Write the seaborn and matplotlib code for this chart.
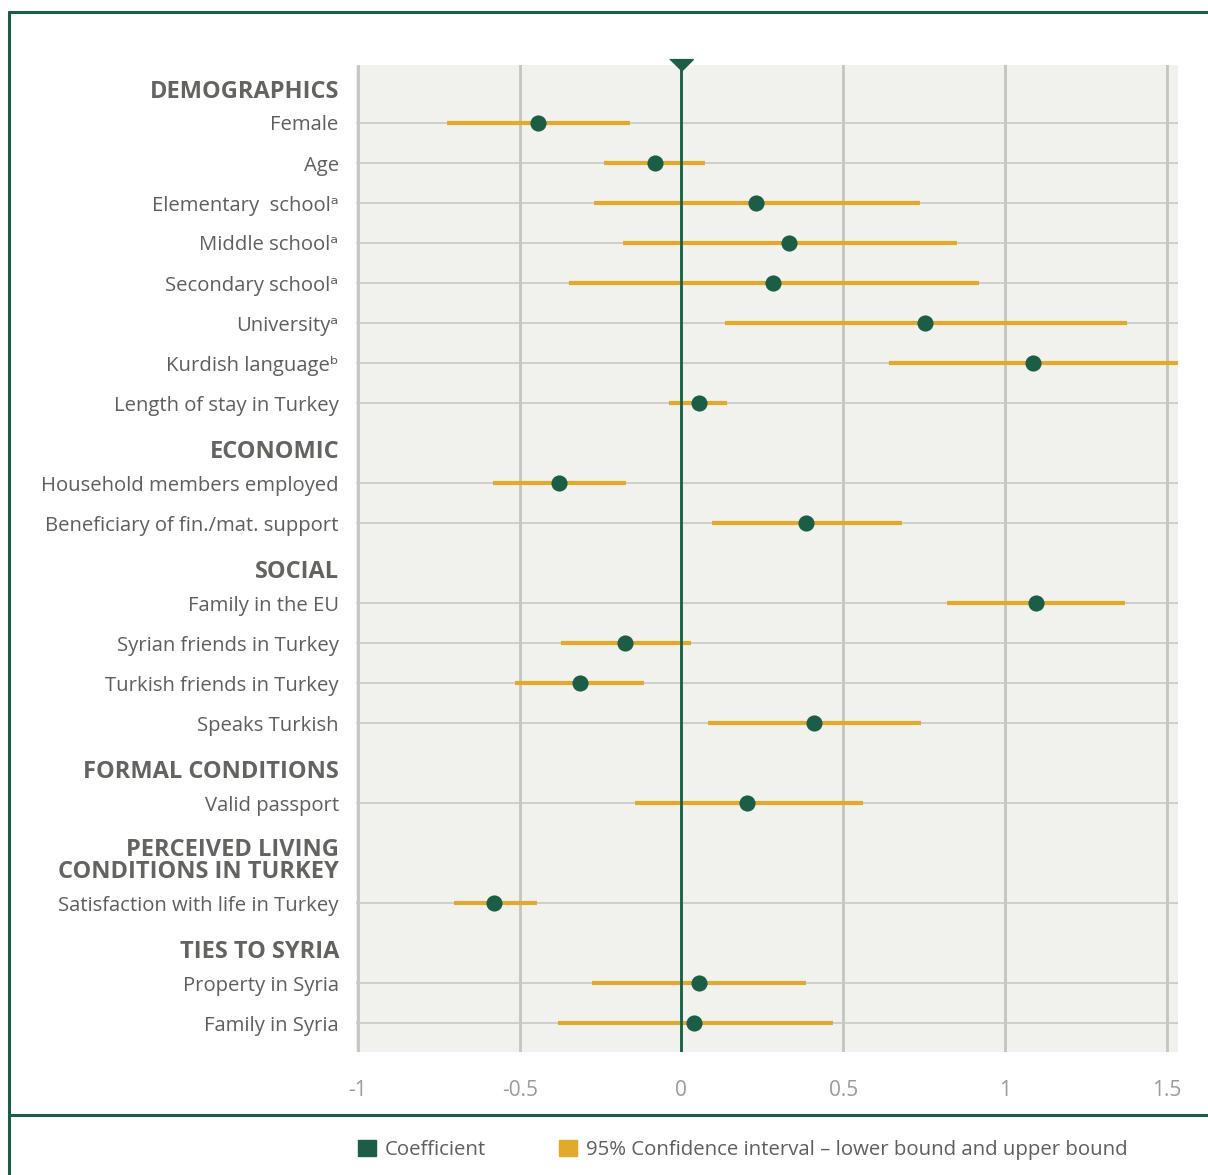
import matplotlib
matplotlib.use("Agg")
import matplotlib.pyplot as plt
import matplotlib.transforms as mtransforms
from matplotlib.lines import Line2D
from matplotlib.patches import Patch
import numpy as np
import pandas as pd
import seaborn as sns

# group headers and how many variables sit under each one
headers = ["DEMOGRAPHICS", "ECONOMIC", "SOCIAL", "FORMAL CONDITIONS",
           "PERCEIVED LIVING\nCONDITIONS IN TURKEY", "TIES TO SYRIA"]
group_sizes = [8, 2, 4, 1, 1, 2]

labels = ["Female", "Age", "Elementary  school\u1d43", "Middle school\u1d43",
          "Secondary school\u1d43", "University\u1d43",
          "Kurdish language\u1d47", "Length of stay in Turkey",
          "Household members employed", "Beneficiary of fin./mat. support",
          "Family in the EU", "Syrian friends in Turkey", "Turkish friends in Turkey", "Speaks Turkish",
          "Valid passport",
          "Satisfaction with life in Turkey",
          "Property in Syria", "Family in Syria"]
coef = [-0.442, -0.083, 0.232, 0.334, 0.284, 0.754, 1.088, 0.053,
        -0.380, 0.386,
        1.097, -0.173, -0.315, 0.411,
        0.204,
        -0.578,
        0.053, 0.040]
ci_low = [-0.726, -0.238, -0.269, -0.182, -0.349, 0.136, 0.643, -0.037,
          -0.584, 0.096,
          0.822, -0.371, -0.513, 0.083,
          -0.145,
          -0.702,
          -0.278, -0.383]
ci_high = [-0.158, 0.074, 0.736, 0.853, 0.921, 1.376, 1.60, 0.142,
           -0.170, 0.683,
           1.372, 0.031, -0.117, 0.742,
           0.560,
           -0.448,
           0.386, 0.467]
xticks = [-1, -0.5, 0, 0.5, 1, 1.5]
xtick_labels = ["-1", "-0.5", "0", "0.5", "1", "1.5"]

GREEN = "#1b5e45"
GOLD = "#e2a92c"
TEXT = "#5e5e5e"
HEAD = "#636360"

sns.set_theme(style="white")
plt.rcParams["font.family"] = ["Open Sans", "DejaVu Sans"]

# row layout: a header takes one row (1.5 when it wraps), each variable one row
ypos, head_pos = [], []
slot = 0.0
for h, n in zip(headers, group_sizes):
    slot += 1 + 0.5 * h.count("\n")
    head_pos.append(slot)
    for i in range(n):
        ypos.append(slot + i)
    slot += n

df = pd.DataFrame({"label": labels, "coef": coef, "lo": ci_low, "hi": ci_high, "y": ypos})

fig = plt.figure(figsize=(12.08, 11.75), dpi=100)
ax = fig.add_axes([356 / 1208, 1 - 1052 / 1175, 822 / 1208, (1052 - 65) / 1175])
ax.set_facecolor("#f1f1ed")
ax.set_xlim(-1.006, 1.535)
ax.set_ylim(24.225, -0.45)

ax.hlines(df["y"], df["lo"], df["hi"], color=GOLD, lw=3, zorder=3)
ax.axvline(0, color=GREEN, lw=2, zorder=4)
sns.scatterplot(data=df, x="coef", y="y", s=135, color=GREEN, linewidth=0, ax=ax, zorder=5)
tri = [(-1, 0.5), (1, 0.5), (0, -0.5)]
ax.plot([0], [-0.45], marker=tri, ms=17, color=GREEN, clip_on=False, zorder=6)

ax.set_xticks(xticks, xtick_labels)
ax.set_yticks(df["y"], df["label"])
ax.set_xlabel("")
ax.set_ylabel("")
ax.grid(axis="x", color="#c4c4c0", lw=2)
ax.grid(axis="y", color="#c9c9c5", lw=1.2)
ax.set_axisbelow(True)
for s in ax.spines.values():
    s.set_visible(False)
ax.tick_params(axis="x", length=0, pad=20, labelsize=15, labelcolor="#9a9a9a")
ax.tick_params(axis="y", length=0, pad=12.5, labelsize=14.6, labelcolor=TEXT)

trans = mtransforms.blended_transform_factory(ax.transAxes, ax.transData)
off = mtransforms.ScaledTranslation(-17 / 100, 0, fig.dpi_scale_trans)
for h, p in zip(headers, head_pos):
    ax.text(0, p - 0.63, h, transform=trans + off, ha="right", va="baseline",
            fontsize=17, fontweight="bold", color=HEAD, multialignment="right",
            linespacing=0.9)

# frame lines
fig.add_artist(Line2D([9 / 1208, 1], [1 - 12 / 1175] * 2, color=GREEN, lw=2.2))
fig.add_artist(Line2D([9 / 1208] * 2, [0, 1 - 12 / 1175], color=GREEN, lw=2.2))
fig.add_artist(Line2D([9 / 1208, 1], [1 - 1115 / 1175] * 2, color=GREEN, lw=2.2))

handles = [Patch(color=GREEN), Patch(color=GOLD)]
fig.legend(handles, ["Coefficient", "95% Confidence interval \u2013 lower bound and upper bound"],
           loc="center left", bbox_to_anchor=(340 / 1208, 1 - 1150 / 1175), ncol=2, frameon=False,
           fontsize=14.65, labelcolor=TEXT, handlelength=0.85, handleheight=0.85,
           handletextpad=0.45, columnspacing=3.6)

fig.savefig("out.png", dpi=100)
